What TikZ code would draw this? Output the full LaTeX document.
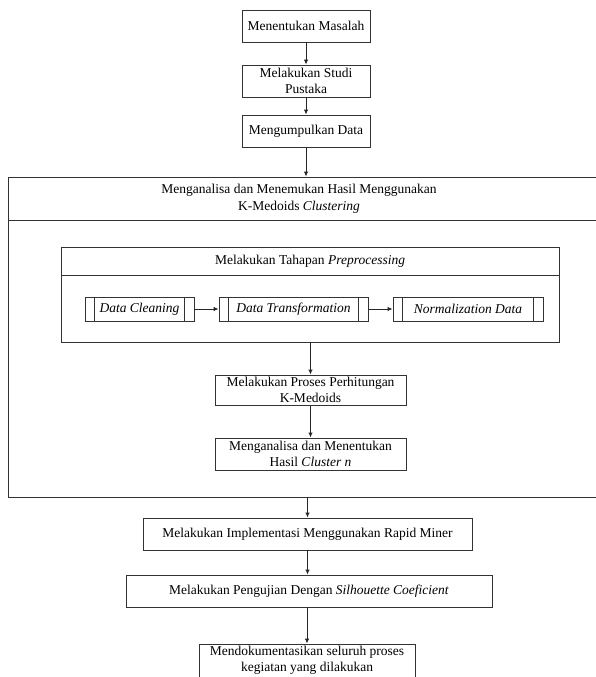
\documentclass[tikz,border=0pt]{standalone}
\usepackage{fontspec}
\setmainfont{Liberation Serif}
\usetikzlibrary{arrows.meta}
\begin{document}
\begin{tikzpicture}[x=1pt,y=-1pt,
  font=\fontsize{13.5}{16}\selectfont,
  box/.style={draw=black!80, line width=0.9pt, inner sep=0pt, align=center, fill=white},
  plain/.style={inner sep=0pt, align=center},
  arr/.style={draw=black!85, line width=0.9pt, -{Latex[length=5pt,width=4.5pt]}},
  sep/.style={draw=black!80, line width=0.9pt}
]
\useasboundingbox (0,0) rectangle (596,677);

% top boxes
\node[box, minimum width=128pt, minimum height=32pt] (b1) at (306,26) {Menentukan Masalah};
\node[box, minimum width=128pt, minimum height=32pt] (b2) at (306,81) {Melakukan Studi\\Pustaka};
\node[box, minimum width=128pt, minimum height=32pt] (b3) at (306,131) {Mengumpulkan Data};

% big container
\node[box, fill=none, minimum width=602pt, minimum height=320pt] (big) at (309,337) {};
\draw[sep] ([yshift=-44pt]big.north west) -- ([yshift=-44pt]big.north east);
\node[plain, font=\fontsize{13.5}{17}\selectfont] (bigtitle) at (299,199) {Menganalisa dan Menemukan Hasil Menggunakan\\K-Medoids \textit{Clustering}};

% preprocessing container
\node[box, fill=none, minimum width=498pt, minimum height=95pt] (prep) at (310,294.5) {};
\draw[sep] ([yshift=-29pt]prep.north west) -- ([yshift=-29pt]prep.north east);
\node[plain] (preptitle) at (310,261.5) {Melakukan Tahapan \textit{Preprocessing}};

% sub-process boxes
\node[box, minimum width=109pt, minimum height=24pt] (dc) at (139.5,309) {\textit{Data Cleaning}};
\node[box, minimum width=149pt, minimum height=24pt] (dt) at (293.5,309) {\textit{Data Transformation}};
\node[box, minimum width=150pt, minimum height=24pt] (nd) at (468,309) {\textit{Normalization Data}};
\foreach \n in {dc,dt,nd}{
  \draw[sep] ([xshift=10pt]\n.north west) -- ([xshift=10pt]\n.south west);
  \draw[sep] ([xshift=-10pt]\n.north east) -- ([xshift=-10pt]\n.south east);
}
\draw[arr] (dc.east) -- (dt.west);
\draw[arr] (dt.east) -- (nd.west);

% inner steps
\node[box, minimum width=191pt, minimum height=30pt] (calc) at (310.5,390) {Melakukan Proses Perhitungan\\K-Medoids};
\node[box, minimum width=191pt, minimum height=32pt] (anal) at (310.5,454) {Menganalisa dan Menentukan\\Hasil \textit{Cluster n}};

% bottom boxes
\node[box, minimum width=329pt, minimum height=32pt] (impl) at (307.5,534) {Melakukan Implementasi Menggunakan Rapid Miner};
\node[box, minimum width=366pt, minimum height=32pt] (sil) at (309,591) {Melakukan Pengujian Dengan \textit{Silhouette Coeficient}};
\node[box, minimum width=216pt, minimum height=33pt] (doc) at (307,660.5) {Mendokumentasikan seluruh proses\\kegiatan yang dilakukan};

% connectors
\draw[arr] (b1) -- (b2);
\draw[arr] (b2) -- (b3);
\draw[arr] (b3.south) -- (b3.south |- big.north);
\draw[arr] (calc.north |- prep.south) -- (calc.north);
\draw[arr] (calc) -- (anal);
\draw[arr] (impl.north |- big.south) -- (impl.north);
\draw[arr] (impl.south) -- (impl.south |- sil.north);
\draw[arr] (doc.north |- sil.south) -- (doc.north);
\end{tikzpicture}
\end{document}
